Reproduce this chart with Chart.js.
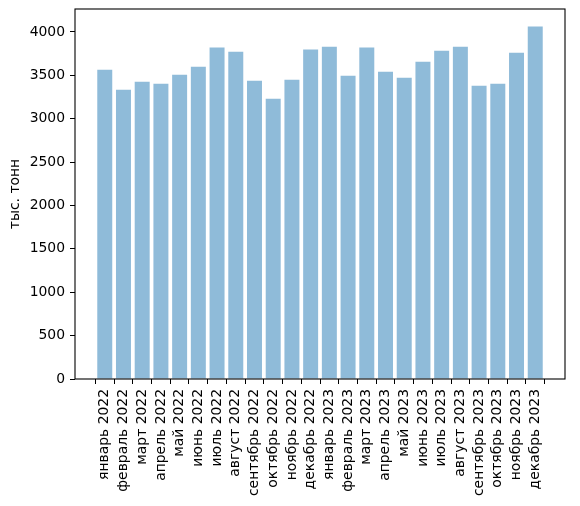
<!DOCTYPE html>
<html>
<head>
<meta charset="utf-8">
<script src="https://cdn.jsdelivr.net/npm/chart.js@4/dist/chart.umd.min.js"></script>
<style>
  html, body { margin: 0; padding: 0; background: #fff; }
  canvas { display: block; }
</style>
</head>
<body>
<canvas id="chart" width="580" height="506"></canvas>
<script>
var months = ["январь 2022", "февраль 2022", "март 2022", "апрель 2022", "май 2022", "июнь 2022",
  "июль 2022", "август 2022", "сентябрь 2022", "октябрь 2022", "ноябрь 2022", "декабрь 2022",
  "январь 2023", "февраль 2023", "март 2023", "апрель 2023", "май 2023", "июнь 2023",
  "июль 2023", "август 2023", "сентябрь 2023", "октябрь 2023", "ноябрь 2023", "декабрь 2023"];
var volumes = [3565, 3334, 3426, 3403, 3507, 3599, 3819, 3772, 3438, 3230, 3449, 3796,
  3830, 3495, 3819, 3542, 3472, 3657, 3784, 3830, 3380, 3403, 3761, 4061];
var yTicks = [0, 500, 1000, 1500, 2000, 2500, 3000, 3500, 4000];
var yLabel = "тыс. тонн";

var FONT = { family: "DejaVu Sans", size: 13.9 };
Chart.defaults.color = "#000";

// matplotlib-like frame round the plot area
var framePlugin = {
    id: "frame",
    afterDraw: function(chart){
        let a = chart.chartArea, ctx = chart.ctx;
        ctx.save();
        ctx.strokeStyle = "#000";
        ctx.lineWidth = 1.1;
        ctx.strokeRect(a.left, a.top, a.right - a.left, a.bottom - a.top);
        ctx.restore();
    }
};

function noPadding(scale){
    scale.paddingTop = 0;
    scale.paddingBottom = 0;
    scale.paddingLeft = 0;
    scale.paddingRight = 0;
}

var points = volumes.map(function(v, i){ return { x: i, y: v }; });

new Chart(document.getElementById("chart"), {
    type: "bar",
    data: {
        datasets: [{
            data: points,
            backgroundColor: "rgba(31,119,180,0.5)",
            borderWidth: 0,
            barPercentage: 0.8,
            categoryPercentage: 1.0
        }]
    },
    options: {
        responsive: false,
        animation: false,
        layout: { padding: { left: 0, right: 15, top: 9, bottom: 0 } },
        plugins: { legend: { display: false }, tooltip: { enabled: false } },
        scales: {
            x: {
                type: "linear",
                min: -1.59,
                max: 24.59,
                offset: false,
                border: { display: false },
                grid: { drawOnChartArea: false, color: "#000", tickLength: 5, lineWidth: 1 },
                afterBuildTicks: function(scale){
                    scale.ticks = months.map(function(m, i){ return { value: i }; });
                },
                afterFit: function(scale){ scale.height = 127; noPadding(scale); },
                ticks: {
                    autoSkip: false,
                    minRotation: 90,
                    maxRotation: 90,
                    padding: 5,
                    font: FONT,
                    callback: function(value){ return months[value]; }
                }
            },
            y: {
                min: 0,
                max: 4264,
                border: { display: false },
                grid: { drawOnChartArea: false, color: "#000", tickLength: 5, lineWidth: 1 },
                afterBuildTicks: function(scale){
                    scale.ticks = yTicks.map(function(v){ return { value: v }; });
                },
                afterFit: function(scale){ scale.width = 75; noPadding(scale); },
                ticks: {
                    padding: 5,
                    font: FONT,
                    callback: function(value){ return String(value); }
                },
                title: {
                    display: true,
                    text: yLabel,
                    font: FONT,
                    padding: { top: 7, bottom: 0 }
                }
            }
        }
    },
    plugins: [framePlugin]
});
</script>
</body>
</html>
